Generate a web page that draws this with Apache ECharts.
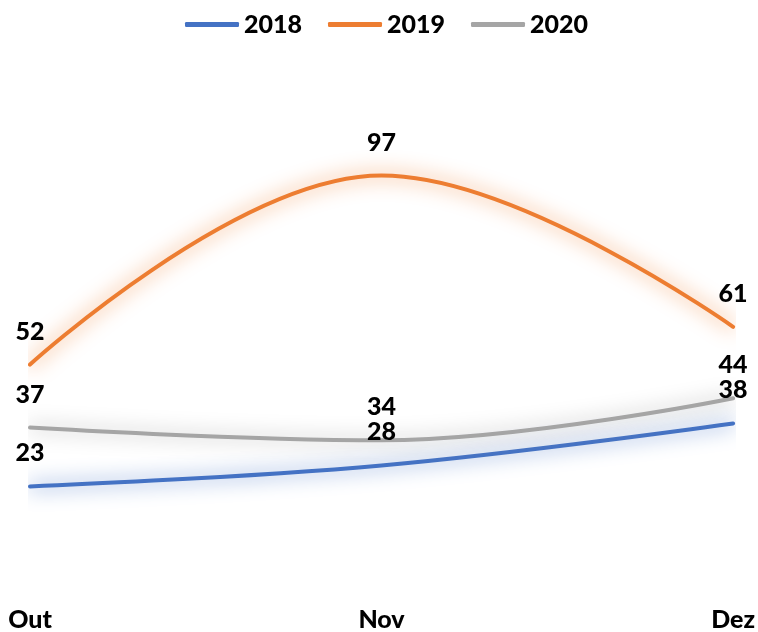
<!DOCTYPE html>
<html>
<head>
<meta charset="utf-8">
<script src="https://cdn.jsdelivr.net/npm/echarts@6/dist/echarts.min.js"></script>
<style>html,body{margin:0;padding:0;background:#fff}#c{width:758px;height:632px}</style>
</head>
<body>
<div id="c"></div>
<script>
var categories = ['Out', 'Nov', 'Dez'];
var seriesNames = ['2018', '2019', '2020'];
var values2018 = [23, 28, 38];
var values2019 = [52, 97, 61];
var values2020 = [37, 34, 44];
var colors = ['#4472C4', '#ED7D31', '#A5A5A5'];
var glows = ['rgba(68,114,196,1)', 'rgba(237,125,49,1)', 'rgba(165,165,165,1)'];
var FONT = 'Lato';
var WEIGHT = 900;

function mk(name, data, i) {
  return {
    name: name, type: 'line', data: data, smooth: 0.4,
    symbol: 'circle', symbolSize: 1,
    itemStyle: { color: colors[i] },
    lineStyle: { width: 4, color: colors[i], shadowBlur: 20, shadowColor: glows[i], cap: 'round' },
    label: { show: true, position: 'top', distance: 20, color: '#000', fontFamily: FONT, fontWeight: WEIGHT, fontSize: 25 }
  };
}

var chart = echarts.init(document.getElementById('c'), null, { renderer: 'canvas' });
chart.setOption({
  animation: false,
  color: colors,
  legend: {
    top: 7, left: 180, icon: 'roundRect', itemWidth: 54, itemHeight: 5, itemGap: 26,
    textStyle: { fontFamily: FONT, fontWeight: WEIGHT, fontSize: 25, color: '#000' },
    data: seriesNames
  },
  grid: { left: 30, right: 20, top: 79, bottom: 47 },
  xAxis: {
    type: 'category', data: categories, boundaryGap: false,
    axisLine: { show: false }, axisTick: { show: false }, splitLine: { show: false },
    axisLabel: { margin: 24, color: '#000', fontFamily: FONT, fontWeight: WEIGHT, fontSize: 25 }
  },
  yAxis: { type: 'value', min: 0, max: 120, show: false, splitLine: { show: false } },
  series: [mk('2018', values2018, 0), mk('2019', values2019, 1), mk('2020', values2020, 2)]
});
</script>
</body>
</html>
